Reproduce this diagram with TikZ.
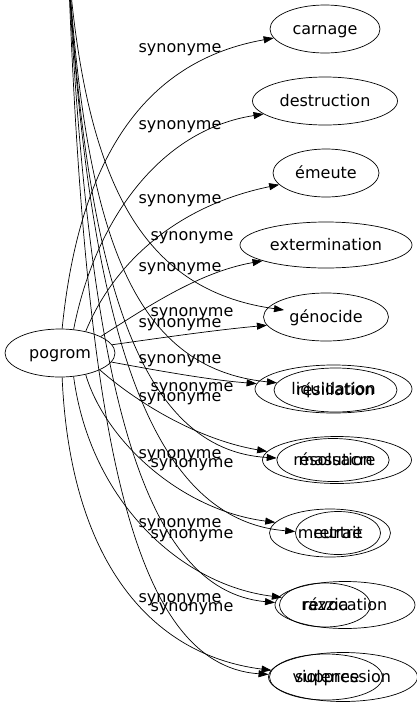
\documentclass[tikz,border=0pt]{standalone}
\usepackage{fontspec}
\setmainfont{DejaVu Sans}
\usetikzlibrary{arrows.meta,shapes.geometric}
\begin{document}
\begin{tikzpicture}[x=1pt,y=-1pt,
  word/.style={draw, ellipse, inner sep=0pt, line width=0.7pt, text height=13pt, text depth=3pt, font=\fontsize{16}{19}\selectfont},
  rel/.style={draw, line width=0.7pt, -{Triangle[length=10pt,width=7pt]}},
  lab/.style={font=\fontsize{16}{19}\selectfont, inner sep=0pt, anchor=base}]
\useasboundingbox (0,0) rectangle (417,707);
\clip (0,0) rectangle (417,707);
% graph A
\node[word, minimum width=110pt, minimum height=48pt] (pogrom) at (60,353) {pogrom};
\node[word, minimum width=110pt, minimum height=48pt] (carnage) at (325,29) {carnage};
\node[word, minimum width=145pt, minimum height=48pt] (destruction) at (325,101) {destruction};
\node[word, minimum width=106pt, minimum height=48pt] (emeute) at (326,173) {émeute};
\node[word, minimum width=172pt, minimum height=46pt] (extermination) at (326,245) {extermination};
\node[word, minimum width=125pt, minimum height=48pt] (genocide) at (326,317) {génocide};
\node[word, minimum width=157pt, minimum height=48pt] (liquidation) at (333.5,389) {liquidation};
\node[word, minimum width=149pt, minimum height=47pt] (massacre) at (337,460) {massacre};
\node[word, minimum width=121pt, minimum height=48pt] (meurtre) at (330,533) {meurtre};
\node[word, minimum width=91pt, minimum height=44pt] (razzia) at (325,605) {razzia};
\node[word, minimum width=113pt, minimum height=46pt] (violence) at (326,677) {violence};
% graph B
\coordinate (broot) at (68,-40);
\coordinate (bgen) at (284,310);
\node[word, minimum width=123pt, minimum height=44pt] (resiliation) at (335.5,390) {résiliation};
\node[word, minimum width=110pt, minimum height=43pt] (resolution) at (333,460) {résolution};
\node[word, minimum width=85pt, minimum height=43pt] (retrait) at (338,533) {retrait};
\node[word, minimum width=140pt, minimum height=47pt] (revocation) at (345,605) {révocation};
\node[word, minimum width=149pt, minimum height=49pt] (suppression) at (343,677) {suppression};
% edges A
\draw[rel] (pogrom.85) .. controls (80,150) and (150,60) .. (carnage.190);
\draw[rel] (pogrom.60) .. controls (95,220) and (160,130) .. (destruction.192);
\draw[rel] (pogrom.40) .. controls (115,260) and (180,205) .. (emeute.194);
\draw[rel] (pogrom.22) .. controls (150,305) and (200,272) .. (extermination.194);
\draw[rel] (pogrom.9) .. controls (160,338) and (215,330) .. (genocide.188);
\draw[rel] (pogrom.-10) .. controls (160,371) and (210,380) .. (liquidation.176);
\draw[rel] (pogrom.-23) .. controls (140,405) and (200,440) .. (massacre.173);
\draw[rel] (pogrom.-40) .. controls (105,440) and (180,510) .. (meurtre.169);
\draw[rel] (pogrom.-60) .. controls (90,500) and (180,585) .. (razzia.170);
\draw[rel] (pogrom.-85) .. controls (70,560) and (150,655) .. (violence.173);
% edges B
\draw[rel] (broot) .. controls (85,180) and (140,290) .. (bgen);
\draw[rel] (broot) .. controls (85,230) and (130,368) .. (resiliation.173);
\draw[rel] (broot) .. controls (86,280) and (140,450) .. (resolution.178);
\draw[rel] (broot) .. controls (88,330) and (150,520) .. (retrait.178);
\draw[rel] (broot) .. controls (88,380) and (140,590) .. (revocation.178);
\draw[rel] (broot) .. controls (85,430) and (130,665) .. (suppression.178);
% labels A
\node[lab] (la1) at (180,52) {synonyme};
\node[lab] (la2) at (180,129) {synonyme};
\node[lab] (la3) at (180,203) {synonyme};
\node[lab] (la4) at (180,271) {synonyme};
\node[lab] (la5) at (180,327) {synonyme};
\node[lab] (la6) at (180,363) {synonyme};
\node[lab] (la7) at (180,401) {synonyme};
\node[lab] (la8) at (180,458) {synonyme};
\node[lab] (la9) at (180,527) {synonyme};
\node[lab] (la10) at (180,602) {synonyme};
% labels B
\node[lab] (lb1) at (192,240) {synonyme};
\node[lab] (lb2) at (192,316) {synonyme};
\node[lab] (lb3) at (192,391) {synonyme};
\node[lab] (lb4) at (192,467) {synonyme};
\node[lab] (lb5) at (192,538) {synonyme};
\node[lab] (lb6) at (192,611) {synonyme};
\end{tikzpicture}
\end{document}
